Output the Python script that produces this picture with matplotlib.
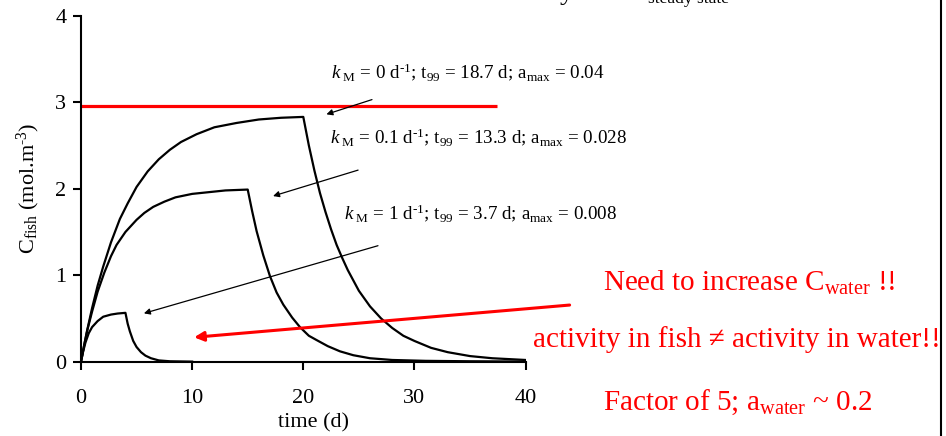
import matplotlib
matplotlib.use("Agg")
import matplotlib.pyplot as plt
from matplotlib.lines import Line2D

plt.rcParams['font.family'] = ['Liberation Serif', 'DejaVu Serif']
plt.rcParams['mathtext.fontset'] = 'custom'
plt.rcParams['mathtext.rm'] = 'Liberation Serif'
plt.rcParams['mathtext.it'] = 'Liberation Serif:italic'

# uptake / depuration curves, kM = 0 d-1 (exposure stops at day 20)
t_km0 = [0, 0.5, 1.0, 1.5, 2.0, 2.7, 3.5, 4.2, 5.0, 6.0, 7.0, 8.0, 9.0, 10.4,
         12.0, 14.0, 16.0, 18.0, 20.0,
         20.5, 21.0, 21.5, 22.0, 22.5, 23.0, 23.5, 24.0, 25.0, 26.0, 27.0,
         28.0, 29.0, 30.0, 31.5, 33.0, 35.0, 37.0, 40.0]
c_km0 = [0, 0.33, 0.62, 0.88, 1.10, 1.38, 1.65, 1.83, 2.02, 2.20, 2.34, 2.45,
         2.54, 2.63, 2.71, 2.76, 2.80, 2.82, 2.83,
         2.50, 2.21, 1.95, 1.73, 1.53, 1.35, 1.20, 1.06, 0.82, 0.64, 0.50,
         0.39, 0.30, 0.24, 0.16, 0.11, 0.065, 0.04, 0.02]

# kM = 0.1 d-1 (exposure stops at day 15)
t_km01 = [0, 0.3, 0.6, 1.0, 1.5, 2.1, 2.7, 3.2, 4.0, 5.0, 5.7, 6.5, 7.5, 8.5,
          10.0, 11.5, 13.0, 15.0,
          15.4, 15.8, 16.4, 17.0, 17.6, 18.2, 19.0, 19.7, 20.5, 21.2, 22.2,
          23.3, 24.5, 26.0, 28.0, 31.0, 35.0, 40.0]
c_km01 = [0, 0.20, 0.38, 0.58, 0.81, 1.03, 1.22, 1.35, 1.50, 1.64, 1.72, 1.79,
          1.85, 1.90, 1.94, 1.96, 1.98, 1.99,
          1.74, 1.51, 1.23, 0.99, 0.80, 0.66, 0.51, 0.40, 0.30, 0.25, 0.18,
          0.12, 0.075, 0.04, 0.02, 0.01, 0.005, 0.002]

# kM = 1 d-1 (exposure stops at day 4)
t_km1 = [0, 0.2, 0.4, 0.7, 1.0, 1.5, 2.0, 2.7, 3.3, 4.0,
         4.2, 4.4, 4.7, 5.0, 5.4, 5.8, 6.3, 7.0, 8.0, 10.0]
c_km1 = [0, 0.12, 0.22, 0.33, 0.40, 0.47, 0.52, 0.545, 0.557, 0.565,
         0.44, 0.35, 0.24, 0.17, 0.11, 0.07, 0.04, 0.015, 0.005, 0.001]

# steady-state level
c_ss = 2.96
t_ss = [0, 37.4]

fig = plt.figure(figsize=(9.46, 4.36), dpi=100)
ax = fig.add_axes([0.0856, 0.1704, 0.47, 0.7936])

ax.plot(t_ss, [c_ss, c_ss], color='red', lw=2.3, solid_capstyle='butt')
for t, c in [(t_km0, c_km0), (t_km01, c_km01), (t_km1, c_km1)]:
    ax.plot(t, c, color='black', lw=1.6)

ax.set_xlim(0, 40)
ax.set_ylim(0, 4)
ax.set_xticks([0, 10, 20, 30, 40])
ax.set_yticks([0, 1, 2, 3, 4])
ax.spines['top'].set_visible(False)
ax.spines['right'].set_visible(False)
for s in ['left', 'bottom']:
    ax.spines[s].set_linewidth(1.5)
ax.tick_params(axis='both', direction='out', length=5.5, width=1.5, labelsize=16)
ax.tick_params(axis='x', pad=14)
ax.tick_params(axis='y', pad=5)

ax.set_xlabel('time (d)', fontsize=16)
ax.set_ylabel(r'C$_{\rm fish}$ (mol.m$^{\text{-3}}$)', fontsize=16)
ax.xaxis.set_label_coords(0.524, -0.148)
ax.yaxis.set_label_coords(-0.088, 0.5)

# curve labels
lab_kw = dict(fontsize=13.7, va='center', ha='left', transform=fig.transFigure)
fig.text(331 / 946, 1 - 72 / 436,
         r'$k_{\rm\ M}$ = 0 d$^{\text{-1}}$; t$_{\rm 99}$ = 18.7 d; a$_{\rm max}$ = 0.04', **lab_kw)
fig.text(330 / 946, 1 - 137 / 436,
         r'$k_{\rm\ M}$ = 0.1 d$^{\text{-1}}$; t$_{\rm 99}$ = 13.3 d; a$_{\rm max}$ = 0.028', **lab_kw)
fig.text(344 / 946, 1 - 213 / 436,
         r'$k_{\rm\ M}$ = 1 d$^{\text{-1}}$; t$_{\rm 99}$ = 3.7 d; a$_{\rm max}$ = 0.008', **lab_kw)

# pointer arrows
thin = dict(arrowstyle='-|>', color='black', lw=0.9, mutation_scale=9, shrinkA=0, shrinkB=0)
ax.annotate('', xy=(22.08, 2.86), xytext=(26.18, 3.03), arrowprops=thin, annotation_clip=False)
ax.annotate('', xy=(17.28, 1.915), xytext=(24.93, 2.215), arrowprops=thin, annotation_clip=False)
ax.annotate('', xy=(5.66, 0.559), xytext=(26.72, 1.341), arrowprops=thin, annotation_clip=False)
ax.annotate('', xy=(10.18, 0.282), xytext=(43.96, 0.655),
            arrowprops=dict(arrowstyle='-|>', color='red', lw=2.2, mutation_scale=14,
                            shrinkA=0, shrinkB=0), annotation_clip=False)

# red remarks
red_kw = dict(fontsize=21, color='red', va='center', ha='left')
fig.text(603 / 946, 1 - 283 / 436, r'Need to increase C$_{\rm water}$ !!', **red_kw)
fig.text(533 / 946, 1 - 340 / 436, 'activity in fish \u2260 activity in water!!', **red_kw)
fig.text(603 / 946, 1 - 402 / 436, r'Factor of 5; a$_{\rm water}$ ~ 0.2', **red_kw)

# heading text running off the top edge
fig.text(567 / 946, 1 + 1 / 436, 'y', fontsize=20, ha='center', va='baseline')
fig.text(688 / 946, 1 - 3 / 436, 'steady state', fontsize=12.5, ha='center', va='baseline')

# frame line on the right
fig.add_artist(Line2D([941 / 946, 941 / 946], [0, 1], color='black', lw=1.5))

fig.savefig('out.png', dpi=100)
